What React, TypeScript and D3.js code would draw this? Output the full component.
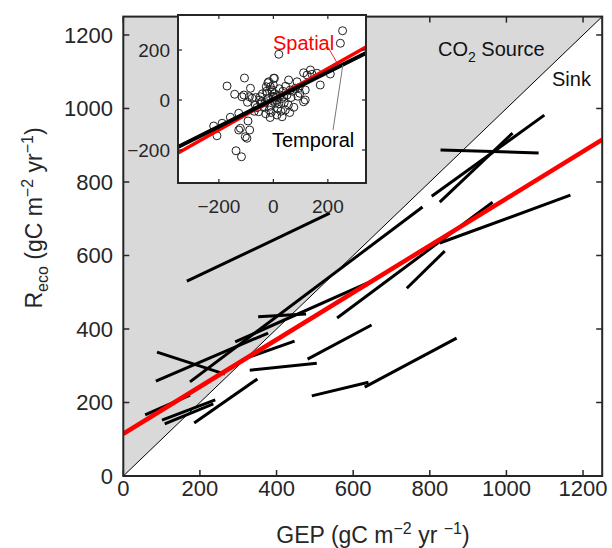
import React from 'react';
import * as d3 from 'd3';

// axis ticks
const mainTicks = [0, 200, 400, 600, 800, 1000, 1200];
const insetTicks = [-200, 0, 200];

// per-site Reco vs GEP regressions: [GEP start, Reco start, GEP end, Reco end]
const siteLines: [number, number, number, number][] = [
  [166, 530, 539, 715],
  [352, 433, 477, 441],
  [88, 337, 265, 277],
  [85, 258, 378, 389],
  [174, 256, 781, 732],
  [805, 761, 1099, 982],
  [828, 887, 1084, 879],
  [826, 745, 1016, 933],
  [558, 430, 964, 745],
  [826, 634, 1167, 764],
  [740, 511, 839, 612],
  [492, 218, 640, 255],
  [630, 242, 870, 375],
  [292, 365, 644, 528],
  [481, 318, 648, 411],
  [330, 324, 447, 367],
  [330, 288, 505, 307],
  [57, 166, 174, 220],
  [101, 152, 240, 207],
  [108, 142, 235, 196],
  [185, 144, 350, 264],
];

// inset: interannual anomalies
const anomalyGEP = [
  254, 246, 20, -106, -170, -84, -142, -115, -88, -95, -219, -207, -158, -121, -87, -103,
  -137, -117, -188, -127, -93, -127, -97, -108, -78, -66, -17, -26, -11, -48, -42, -54,
  -23, 1, 1, 56, 87, 111, 136, 124, 142, 160, 172, 209, 81, 117, 97, 62, 38, 111, 75, 44,
  13, 32, 7, -5, 117, -20, 4, -30, -20, -10, 0, 10, 20, 25, -35, -5, 15, 30, -45, -15, 5,
  40, -25, 50, -60, -50, 35, -8, 55, 22, -40, 65, -70, 12, -2, 28, 45, -28, 70, 90, 95,
  -65, 0, -12, 60,
];
const anomalyReco = [
  277, 227, 183, 88, 56, 47, 23, 13, 13, -9, -104, -143, -69, -113, -120, -147,
  -203, -227, -93, -53, -84, -120, -153, 20, 7, -20, 73, 53, 53, 13, -7, -47,
  27, 13, 87, 80, 73, 109, 120, 100, 103, 107, 60, 104, 47, 40, 27, 40, 13, -7, -29, -40,
  -60, -67, -13, 33, 0, 69, 87, -10, 5, -25, -5, 10, -15, 20, -30, 40, -35, 5, -15, -40, 25,
  -10, 35, 20, -30, 0, 35, -50, -20, 45, 25, 10, -45, 0, 15, -45, 55, -55, 35, 15, 50,
  10, 60, -70, -50,
];

// fits: [intercept, slope]
const spatialFit = [115, 0.64];
const insetSpatialFit = [3, 0.614];
const insetTemporalFit = [3, 0.545];

const FONT = 'Liberation Sans, Arial, Helvetica, sans-serif';

export default function App() {
  const x = d3.scaleLinear().domain([0, 1250]).range([123.3, 602.2]);
  const y = d3.scaleLinear().domain([0, 1250]).range([476, 16.6]);
  const ix = d3.scaleLinear().domain([-350, 340]).range([178, 366]);
  const iy = d3.scaleLinear().domain([-332, 340]).range([183, 15]);

  const [x0, x1] = x.domain();
  const [y0, y1] = y.domain();
  const [ix0, ix1] = ix.domain();
  const [iy0, iy1] = iy.domain();

  const fitLine = (fit: number[], a: number, b: number, sx: any, sy: any) => {
    const path = d3.line<number>().x(d => sx(d)).y(d => sy(fit[0] + fit[1] * d));
    return path([a, b]) || '';
  };

  const tickLen = 6;
  const iTick = 4;

  return (
    <svg width={612} height={548} style={{ position: 'absolute', left: 0, top: 0, background: '#fff' }} fontFamily={FONT}>
      <defs>
        <clipPath id="mainClip">
          <rect x={x(x0)} y={y(y1)} width={x(x1) - x(x0)} height={y(y0) - y(y1)} />
        </clipPath>
        <clipPath id="insetClip">
          <rect x={ix(ix0)} y={iy(iy1)} width={ix(ix1) - ix(ix0)} height={iy(iy0) - iy(iy1)} />
        </clipPath>
      </defs>

      {/* source region above 1:1 line */}
      <path d={`M${x(0)},${y(0)}L${x(1250)},${y(1250)}L${x(0)},${y(1250)}Z`} fill="#d9d9d9" />
      <line x1={x(0)} y1={y(0)} x2={x(1250)} y2={y(1250)} stroke="#000" strokeWidth={1} />

      <g clipPath="url(#mainClip)">
        {siteLines.map((s, i) => (
          <line key={i} x1={x(s[0])} y1={y(s[1])} x2={x(s[2])} y2={y(s[3])} stroke="#000" strokeWidth={3} />
        ))}
        <path d={fitLine(spatialFit, 0, 1250, x, y)} stroke="#ff0000" strokeWidth={4.5} fill="none" />
      </g>

      {/* main frame and ticks */}
      <rect x={x(x0)} y={y(y1)} width={x(x1) - x(x0)} height={y(y0) - y(y1)} fill="none" stroke="#262626" strokeWidth={2} />
      {mainTicks.map(t => (
        <g key={'mx' + t} stroke="#262626" strokeWidth={1.5}>
          <line x1={x(t)} x2={x(t)} y1={y(y0)} y2={y(y0) - tickLen} />
          <line x1={x(t)} x2={x(t)} y1={y(y1)} y2={y(y1) + tickLen} />
          <line y1={y(t)} y2={y(t)} x1={x(x0)} x2={x(x0) + tickLen} />
          <line y1={y(t)} y2={y(t)} x1={x(x1)} x2={x(x1) - tickLen} />
        </g>
      ))}
      {mainTicks.map(t => (
        <text key={'xl' + t} x={x(t)} y={496} textAnchor="middle" fontSize={22} fill="#262626">{t}</text>
      ))}
      {mainTicks.map(t => (
        <text key={'yl' + t} x={113} y={y(t) + 8} textAnchor="end" fontSize={22} fill="#262626">{t}</text>
      ))}

      <text x={373} y={543} textAnchor="middle" fontSize={23} fill="#262626">
        GEP (gC m<tspan dy={-9} fontSize={16}>−2</tspan><tspan dy={9}> yr </tspan><tspan dy={-9} fontSize={16}>−1</tspan><tspan dy={9}>)</tspan>
      </text>
      <text transform={`translate(42,218) rotate(-90)`} textAnchor="middle" fontSize={23} fill="#262626">
        R<tspan dy={6} fontSize={16}>eco</tspan><tspan dy={-6}> (gC m</tspan><tspan dy={-9} fontSize={16}>−2</tspan><tspan dy={9}> yr</tspan><tspan dy={-9} fontSize={16}>−1</tspan><tspan dy={9}>)</tspan>
      </text>

      <text x={438} y={56} fontSize={20} fill="#111">
        CO<tspan dy={6} fontSize={14}>2</tspan><tspan dy={-6}> Source</tspan>
      </text>
      <text x={552} y={86} fontSize={20} fill="#111">Sink</text>

      {/* inset */}
      <rect x={ix(ix0)} y={iy(iy1)} width={ix(ix1) - ix(ix0)} height={iy(iy0) - iy(iy1)} fill="#fff" />
      <g clipPath="url(#insetClip)">
        {anomalyGEP.map((g, i) => (
          <circle key={i} cx={ix(g)} cy={iy(anomalyReco[i])} r={4} fill="none" stroke="#222" strokeWidth={1} />
        ))}
        <path d={fitLine(insetSpatialFit, ix0, ix1, ix, iy)} stroke="#ff0000" strokeWidth={3.5} fill="none" />
        <path d={fitLine(insetTemporalFit, ix0, ix1, ix, iy)} stroke="#000" strokeWidth={4} fill="none" />
        <line x1={ix(200)} y1={iy(212)} x2={ix(233)} y2={iy(150)} stroke="#e03030" strokeWidth={1} />
        <line x1={ix(219)} y1={iy(-120)} x2={ix(255)} y2={iy(140)} stroke="#777" strokeWidth={1} />
      </g>
      <rect x={ix(ix0)} y={iy(iy1)} width={ix(ix1) - ix(ix0)} height={iy(iy0) - iy(iy1)} fill="none" stroke="#262626" strokeWidth={2} />
      {insetTicks.map(t => (
        <g key={'ix' + t} stroke="#262626" strokeWidth={1.2}>
          <line x1={ix(t)} x2={ix(t)} y1={iy(iy0)} y2={iy(iy0) - iTick} />
          <line x1={ix(t)} x2={ix(t)} y1={iy(iy1)} y2={iy(iy1) + iTick} />
          <line y1={iy(t)} y2={iy(t)} x1={ix(ix0)} x2={ix(ix0) + iTick} />
          <line y1={iy(t)} y2={iy(t)} x1={ix(ix1)} x2={ix(ix1) - iTick} />
        </g>
      ))}
      {insetTicks.map(t => (
        <text key={'ixl' + t} x={ix(t)} y={213} textAnchor="middle" fontSize={19} fill="#262626">{t === 0 ? '0' : (t < 0 ? '−' : '') + Math.abs(t)}</text>
      ))}
      {insetTicks.map(t => (
        <text key={'iyl' + t} x={170} y={iy(t) + 7} textAnchor="end" fontSize={19} fill="#262626">{t === 0 ? '0' : (t < 0 ? '−' : '') + Math.abs(t)}</text>
      ))}
      <text x={273} y={50} fontSize={20} fill="#ff0000">Spatial</text>
      <text x={272} y={147} fontSize={20} fill="#000">Temporal</text>
    </svg>
  );
}
